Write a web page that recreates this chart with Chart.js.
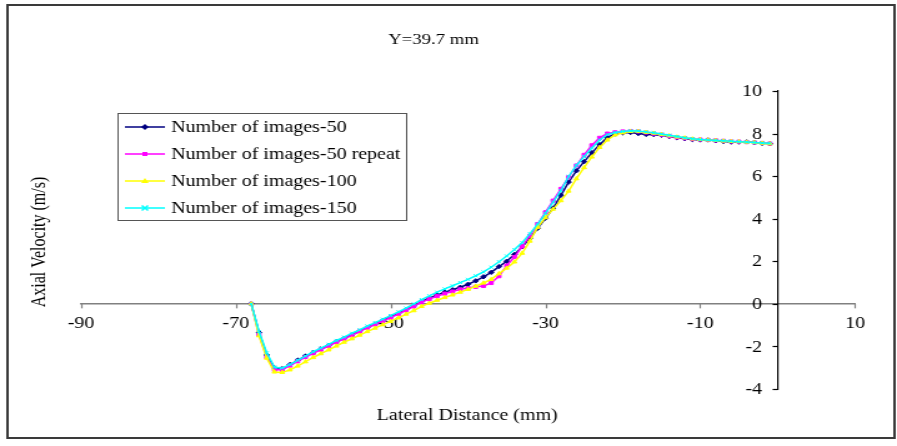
<!DOCTYPE html>
<html>
<head>
<meta charset="utf-8">
<script src="https://cdn.jsdelivr.net/npm/chart.js"></script>
<style>
  html, body { margin: 0; padding: 0; background: #fff; overflow: hidden; }
  /* the reference is stretched horizontally, so draw narrow and stretch */
  #wrap { width: 718px; height: 446px; transform: scaleX(1.2493); transform-origin: 0 0; }
</style>
</head>
<body>
<div id="wrap"><canvas id="myChart"></canvas></div>
<script>
const lateral = [-68, -67, -66, -65, -64, -63, -62, -61, -60, -59, -58, -57, -56, -55, -54, -53, -52, -51, -50, -49,
  -48, -47, -46, -45, -44, -43, -42, -41, -40, -39, -38, -37, -36, -35, -34, -33, -32, -31, -30, -29,
  -28, -27, -26, -25, -24, -23, -22, -21, -20, -19, -18, -17, -16, -15, -14, -13, -12, -11, -10, -9,
  -8, -7, -6, -5, -4, -3, -2, -1];

const images50 = [0, -1.35, -2.4, -3.0, -3.05, -2.85, -2.65, -2.45, -2.3, -2.12, -1.95, -1.78, -1.62, -1.46, -1.28, -1.1, -0.95, -0.78, -0.62, -0.45,
  -0.28, -0.1, 0.12, 0.27, 0.42, 0.55, 0.66, 0.78, 0.92, 1.08, 1.27, 1.48, 1.75, 2.0, 2.32, 2.68, 3.08, 3.55, 4.02, 4.5,
  5.1, 5.72, 6.25, 6.68, 7.1, 7.48, 7.82, 7.98, 8.04, 8.05, 8.0, 7.96, 7.95, 7.92, 7.86, 7.8, 7.76, 7.72, 7.7, 7.7,
  7.66, 7.63, 7.6, 7.6, 7.61, 7.58, 7.54, 7.52];

const images50repeat = [0, -1.45, -2.5, -3.1, -3.1, -2.9, -2.7, -2.5, -2.32, -2.15, -1.98, -1.8, -1.64, -1.48, -1.3, -1.12, -0.97, -0.8, -0.65, -0.48,
  -0.3, -0.12, 0.08, 0.22, 0.36, 0.48, 0.58, 0.68, 0.74, 0.8, 0.84, 0.98, 1.3, 1.8, 2.2, 2.7, 3.2, 3.75, 4.3, 4.85,
  5.4, 5.95, 6.5, 7.0, 7.45, 7.8, 8.0, 8.06, 8.1, 8.12, 8.1, 8.05, 8.0, 7.95, 7.88, 7.82, 7.78, 7.74, 7.72, 7.7,
  7.68, 7.66, 7.63, 7.62, 7.6, 7.58, 7.56, 7.53];

const images100 = [0, -1.5, -2.55, -3.2, -3.22, -3.1, -2.92, -2.72, -2.52, -2.34, -2.16, -1.98, -1.8, -1.64, -1.47, -1.3, -1.14, -0.98, -0.82, -0.66,
  -0.48, -0.32, -0.12, 0.03, 0.17, 0.3, 0.42, 0.55, 0.68, 0.83, 0.98, 1.15, 1.42, 1.68, 1.97, 2.38, 2.95, 3.6, 4.05, 4.45,
  4.85, 5.3, 5.88, 6.4, 6.9, 7.35, 7.7, 7.94, 8.04, 8.1, 8.1, 8.06, 8.02, 7.96, 7.9, 7.84, 7.8, 7.75, 7.72, 7.7,
  7.68, 7.65, 7.63, 7.62, 7.6, 7.58, 7.55, 7.52];

const images150 = [0, -1.3, -2.3, -2.98, -3.02, -2.85, -2.65, -2.45, -2.25, -2.08, -1.9, -1.72, -1.56, -1.38, -1.22, -1.04, -0.88, -0.72, -0.55, -0.38,
  -0.2, 0.0, 0.2, 0.38, 0.55, 0.7, 0.85, 1.0, 1.15, 1.32, 1.5, 1.72, 1.98, 2.25, 2.55, 2.88, 3.3, 3.75, 4.25, 4.78,
  5.32, 5.98, 6.5, 6.92, 7.32, 7.7, 7.95, 8.05, 8.1, 8.13, 8.12, 8.08, 8.04, 7.98, 7.92, 7.86, 7.8, 7.76, 7.72, 7.7,
  7.68, 7.66, 7.64, 7.62, 7.6, 7.58, 7.56, 7.54];

const seriesNames = ['Number of images-50', 'Number of images-50 repeat', 'Number of images-100', 'Number of images-150'];
const seriesColors = ['#000080', '#FF00FF', '#FFFF00', '#00FFFF'];
const seriesMarkers = ['rectRot', 'rect', 'triangle', 'crossRot'];
const seriesValues = [images50, images50repeat, images100, images150];

const FONT = '"Liberation Serif", "Times New Roman", serif';

function drawMarker(ctx, style, color, x, y) {
  ctx.save();
  ctx.fillStyle = color;
  ctx.strokeStyle = color;
  ctx.lineWidth = 1.5;
  ctx.beginPath();
  if (style === 'rectRot') {
    ctx.moveTo(x, y - 3); ctx.lineTo(x + 3, y); ctx.lineTo(x, y + 3); ctx.lineTo(x - 3, y);
    ctx.closePath(); ctx.fill();
  } else if (style === 'rect') {
    ctx.rect(x - 2, y - 2, 4, 4); ctx.fill();
  } else if (style === 'triangle') {
    ctx.moveTo(x, y - 3); ctx.lineTo(x + 3, y + 2); ctx.lineTo(x - 3, y + 2);
    ctx.closePath(); ctx.fill();
  } else {
    ctx.moveTo(x - 2.5, y - 2.5); ctx.lineTo(x + 2.5, y + 2.5);
    ctx.moveTo(x + 2.5, y - 2.5); ctx.lineTo(x - 2.5, y + 2.5);
    ctx.stroke();
  }
  ctx.restore();
}

// frame, titles, tick marks, y tick labels and the legend box, the way Excel lays them out
const extras = {
  id: 'extras',
  afterDraw(chart) {
    const ctx = chart.ctx;
    const xs = chart.scales.x;
    const ys = chart.scales.y;
    const axisX = xs.getPixelForValue(0);
    const axisY = ys.getPixelForValue(0);
    ctx.save();
    ctx.strokeStyle = '#3a3a3a';
    ctx.lineWidth = 2;
    ctx.strokeRect(6, 5, 710, 433);

    // tick marks: x ticks hang down, y ticks point left
    ctx.lineWidth = 1.2;
    ctx.strokeStyle = '#808080';
    xs.ticks.forEach(t => {
      const px = Math.round(xs.getPixelForValue(t.value)) + 0.5;
      ctx.beginPath();
      ctx.moveTo(px, axisY);
      ctx.lineTo(px, axisY + 4.5);
      ctx.stroke();
    });
    ctx.strokeStyle = '#000';
    ys.ticks.forEach(t => {
      const py = Math.round(ys.getPixelForValue(t.value)) + 0.5;
      ctx.beginPath();
      ctx.moveTo(axisX - 4, py);
      ctx.lineTo(axisX, py);
      ctx.stroke();
    });

    ctx.fillStyle = '#000';
    ctx.font = '15px ' + FONT;
    ctx.textAlign = 'center';
    ctx.textBaseline = 'middle';
    ctx.fillText('Y=39.7 mm', 347, 40);
    ctx.font = '16px ' + FONT;
    ctx.fillText('Lateral Distance (mm)', 374, 416);
    ctx.save();
    ctx.translate(32, 242);
    ctx.rotate(-Math.PI / 2);
    ctx.fillText('Axial Velocity (m/s)', 0, 0);
    ctx.restore();

    // y tick labels sit left of the axis at x = 0
    ctx.textAlign = 'right';
    ys.ticks.forEach(t => {
      ctx.fillText(String(t.value), axisX - 12.4, ys.getPixelForValue(t.value) + 1);
    });

    // legend
    ctx.fillStyle = '#fff';
    ctx.fillRect(94.5, 113.5, 231, 107);
    ctx.strokeStyle = '#555';
    ctx.lineWidth = 1;
    ctx.strokeRect(94.5, 113.5, 231, 107);
    const rows = [127, 154, 181, 208];
    seriesNames.forEach((name, i) => {
      const y = rows[i];
      ctx.strokeStyle = seriesColors[i];
      ctx.lineWidth = 1.5;
      ctx.beginPath();
      ctx.moveTo(100, y);
      ctx.lineTo(132, y);
      ctx.stroke();
      drawMarker(ctx, seriesMarkers[i], seriesColors[i], 116, y);
      ctx.fillStyle = '#000';
      ctx.textAlign = 'left';
      ctx.fillText(name, 137, y + 1);
    });
    ctx.restore();
  }
};

const ctx = document.getElementById('myChart').getContext('2d');

const data = {
  datasets: seriesNames.map((name, i) => ({
    label: name,
    data: lateral.map((x, j) => ({ x: x, y: seriesValues[i][j] })),
    borderColor: seriesColors[i],
    backgroundColor: seriesColors[i],
    borderWidth: 1.5,
    pointStyle: seriesMarkers[i],
    pointRadius: 2.2,
    pointBorderWidth: 1,
    pointBackgroundColor: seriesColors[i],
    pointBorderColor: seriesColors[i],
    tension: 0,
    order: 3 - i   // later series drawn on top, like Excel
  }))
};

const config = {
  type: 'line',
  data: data,
  options: {
    responsive: true,
    maintainAspectRatio: false,
    animation: false,
    layout: { padding: { left: 64.8, right: 33.6, top: 91, bottom: 57 } },
    plugins: {
      legend: { display: false },
      tooltip: { enabled: false },
      title: { display: false }
    },
    scales: {
      x: {
        type: 'linear',
        position: { y: 0 },
        min: -90,
        max: 10,
        ticks: {
          stepSize: 20,
          autoSkip: false,
          maxRotation: 0,
          padding: 10,
          color: '#000',
          font: { family: FONT, size: 16 }
        },
        grid: { drawOnChartArea: false, drawTicks: false, tickLength: 4, color: '#808080' },
        border: { color: '#808080', width: 1.5 }
      },
      y: {
        type: 'linear',
        position: { x: 0 },
        min: -4,
        max: 10,
        ticks: {
          display: false,
          stepSize: 2
        },
        grid: { drawOnChartArea: false, drawTicks: false, color: '#000' },
        border: { color: '#000', width: 1.2 }
      }
    }
  },
  plugins: [extras]
};

new Chart(ctx, config);
</script>
</body>
</html>
